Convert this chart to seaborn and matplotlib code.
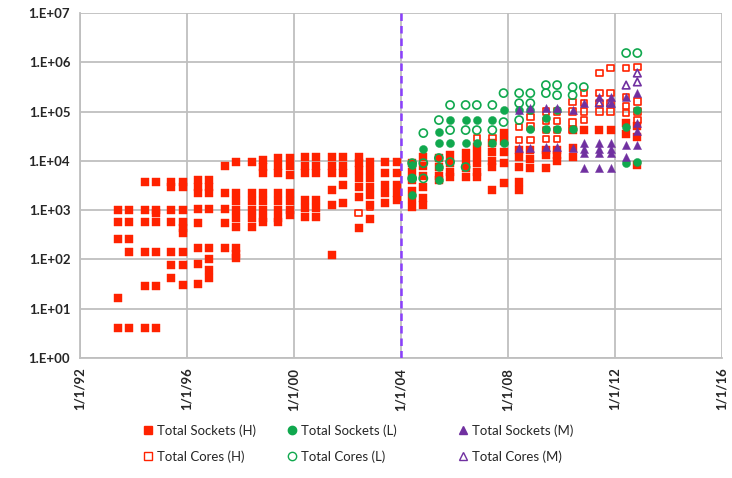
import matplotlib
matplotlib.use("Agg")
import matplotlib.pyplot as plt
from matplotlib.lines import Line2D
import seaborn as sns
import pandas as pd
import numpy as np

# TOP500 list editions (June / November)
list_dates = [f"{y}-{m}-01" for y in range(1993, 2013) for m in ("06", "11")]

# Per-list values for each series (empty list = no entry)
sockets_h = [
    [1000, 574, 259, 16.5, 4.1], [1000, 574, 259, 141, 4.1],
    [3720, 1000, 574, 141, 29, 4.1], [3720, 1000, 875, 574, 141, 29, 4.1],
    [3720, 2940, 1000, 574, 141, 77, 42], [3720, 2940, 1000, 574, 430, 343, 141, 77, 30],
    [4070, 3000, 2220, 1050, 547, 170, 81, 31], [4070, 3000, 2220, 1050, 170, 100, 60, 42],
    [7840, 2220, 1050, 547, 170], [9460, 2220, 1500, 1000, 700, 450, 170, 130, 107],
    [9460, 2220, 1500, 1000, 700, 450], [10380, 7500, 5640, 2220, 1500, 1000, 700, 574],
    [11400, 8000, 5640, 2220, 1500, 1000, 700, 574], [11400, 8000, 5130, 2220, 1500, 1000, 800],
    [11940, 8000, 5640, 1600, 1100, 725], [11940, 8000, 5640, 1600, 1100, 725],
    [11940, 8000, 5640, 2570, 1270, 123], [11940, 8000, 5640, 3220, 1390],
    [11940, 9000, 6500, 4500, 3000, 1845, 433], [9460, 6500, 4500, 3000, 2000, 1300, 661],
    [9460, 5640, 3220, 2200, 1390], [9460, 5640, 3220, 2200, 1600],
    [9020, 6000, 4000, 2500, 1700, 1150], [12000, 8000, 5000, 3000, 1800, 1270],
    [11400, 7500, 5000, 4070], [13100, 9000, 6000, 4680],
    [14400, 10000, 7000, 4680], [19000, 13000, 9000, 6000, 4680],
    [22900, 15000, 10000, 7490, 2570], [36600, 25000, 15000, 9020, 3500],
    [16560, 12000, 7490, 3720, 2570], [16560, 11000, 7150],
    [16560, 13000, 7150], [16560, 13000, 10000],
    [42100, 18200, 12000], [42100],
    [42100], [42100],
    [60000, 35000], [50000, 30000, 8220],
]
cores_h = [
    [], [], [], [], [], [], [], [], [], [], [], [], [], [], [], [], [], [],
    [875], [1150], [], [], [], [], [], [], [], [29000],
    [29000], [], [48500, 26400], [77300, 50000, 26400],
    [100000, 65000, 42000, 28000], [100000, 65000, 42000, 28000],
    [155000, 100000, 60000, 42000], [237000, 150000, 100000, 67300],
    [606000, 237000, 150000, 100000], [761000, 237000, 150000, 100000],
    [761000, 196000, 130000, 93300], [800000, 160000, 100000, 67000],
]
sockets_l = [
    [], [], [], [], [], [], [], [], [], [], [], [], [], [], [], [], [], [], [], [], [], [],
    [8220, 4400, 2000], [17000],
    [38400, 22900, 7490, 4070], [67300, 22900],
    [67300, 22900], [67300, 22900],
    [67300, 22900], [107000, 22900],
    [107000], [107000, 45000],
    [75000, 45000], [107000, 45000],
    [45000], [], [], [],
    [48500, 9020], [107000, 9500],
]
cores_l = [
    [], [], [], [], [], [], [], [], [], [], [], [], [], [], [], [], [], [], [], [], [], [],
    [9000, 4400], [36600, 9000, 4400],
    [67300, 11400], [136000, 42100, 9460],
    [136000, 42100, 7490], [136000, 42100],
    [136000, 42100], [237000, 61200],
    [237000, 148000, 67300], [237000, 148000],
    [345000, 237000], [345000, 215000],
    [314000, 215000], [314000], [], [],
    [1540000], [1540000],
]
sockets_m = [
    [], [], [], [], [], [], [], [], [], [], [], [], [], [], [], [], [], [], [], [],
    [], [], [], [], [], [], [], [], [], [],
    [107000, 18200], [117000, 18200],
    [117000, 19000], [117000, 19000],
    [107000, 18200], [150000, 22900, 17000, 14400, 7150],
    [196000, 22900, 17000, 14400, 7150], [196000, 150000, 22900, 17000, 14400, 7150],
    [196000, 20900, 12000], [237000, 60000, 40000, 20900],
]
cores_m = [
    [], [], [], [], [], [], [], [], [], [], [], [], [], [], [], [], [], [], [], [],
    [], [], [], [], [], [], [], [], [], [], [], [], [], [], [], [],
    [150000], [150000],
    [345000], [606000, 400000],
]

series_names = ["Total Sockets (H)", "Total Cores (H)", "Total Sockets (L)",
                "Total Cores (L)", "Total Sockets (M)", "Total Cores (M)"]
series_data = [sockets_h, cores_h, sockets_l, cores_l, sockets_m, cores_m]

RED, GREEN, PURPLE = "#FF2200", "#10A84E", "#7030A0"
styles = {
    "Total Sockets (H)": dict(marker="s", color=RED, filled=True, s=26),
    "Total Cores (H)": dict(marker="s", color=RED, filled=False, s=22),
    "Total Sockets (L)": dict(marker="o", color=GREEN, filled=True, s=34),
    "Total Cores (L)": dict(marker="o", color=GREEN, filled=False, s=34),
    "Total Sockets (M)": dict(marker="^", color=PURPLE, filled=True, s=34),
    "Total Cores (M)": dict(marker="^", color=PURPLE, filled=False, s=30),
}

rows = []
for name, per_list in zip(series_names, series_data):
    for d, vals in zip(list_dates, per_list):
        for v in vals:
            rows.append((name, pd.Timestamp(d), v))
df = pd.DataFrame(rows, columns=["series", "date", "value"])

sns.set_style("white")
plt.rcParams["font.family"] = ["Lato", "DejaVu Sans"]

fig = plt.figure(figsize=(7.32, 4.78), dpi=100)
ax = fig.add_axes([80 / 732, 1 - 358 / 478, 642 / 732, 345 / 478])

draw_order = ["Total Cores (H)", "Total Sockets (H)", "Total Cores (L)",
              "Total Sockets (L)", "Total Cores (M)", "Total Sockets (M)"]
for name in draw_order:
    st = styles[name]
    sub = df[df["series"] == name]
    if st["filled"]:
        sns.scatterplot(data=sub, x="date", y="value", ax=ax, marker=st["marker"],
                        s=st["s"], color=st["color"], edgecolor=st["color"],
                        linewidth=0.3, legend=False, zorder=3)
    else:
        sns.scatterplot(data=sub, x="date", y="value", ax=ax, marker=st["marker"],
                        s=st["s"], facecolor="none", edgecolor=st["color"],
                        linewidth=1.2, legend=False, zorder=3)

ax.set_yscale("log")
ax.set_ylim(1, 1e7)
ax.set_xlim(pd.Timestamp("1992-01-01"), pd.Timestamp("2016-01-01"))

yticks = [10.0 ** k for k in range(8)]
ax.set_yticks(yticks)
ax.set_yticklabels([f"1.E+{k:02d}" for k in range(8)])
ax.yaxis.set_minor_locator(matplotlib.ticker.NullLocator())

xtick_years = list(range(1992, 2017, 4))
ax.set_xticks([pd.Timestamp(f"{y}-01-01") for y in xtick_years])
ax.set_xticklabels([f"1/1/{y % 100:02d}" for y in xtick_years], rotation=90)

ax.grid(True, color="#BFBFBF", linewidth=1.3)
ax.set_axisbelow(True)
for side in ("top", "right"):
    ax.spines[side].set_visible(False)
for side in ("left", "bottom"):
    ax.spines[side].set_color("#BFBFBF")
    ax.spines[side].set_linewidth(1.3)
ax.tick_params(axis="both", length=5, width=1.3, color="#BFBFBF",
               labelsize=9.5, labelcolor="#262626", pad=2)
for lab in ax.get_xticklabels() + ax.get_yticklabels():
    lab.set_fontweight("bold")
ax.set_xlabel("")
ax.set_ylabel("")

ax.axvline(pd.Timestamp("2004-01-01"), color="#8A3FFC", linewidth=1.8,
           linestyle=(0, (3, 2)), zorder=4)

def handle(name):
    st = styles[name]
    return Line2D([], [], linestyle="none", marker=st["marker"], markersize=6,
                  markerfacecolor=st["color"] if st["filled"] else "none",
                  markeredgecolor=st["color"], markeredgewidth=1.0)

legend_cols = [("Total Sockets (H)", "Total Cores (H)", 144),
               ("Total Sockets (L)", "Total Cores (L)", 288),
               ("Total Sockets (M)", "Total Cores (M)", 459)]
for top, bottom, xpix in legend_cols:
    leg = fig.legend([handle(top), handle(bottom)], [top, bottom],
                     loc="upper left", bbox_to_anchor=(xpix / 732, 1 - 424 / 478),
                     frameon=False, fontsize=9.5, handlelength=0.6,
                     handletextpad=0.4, labelspacing=1.05, borderpad=0,
                     borderaxespad=0)
    for t in leg.get_texts():
        t.set_color("#262626")

fig.savefig("out.png", dpi=100)
